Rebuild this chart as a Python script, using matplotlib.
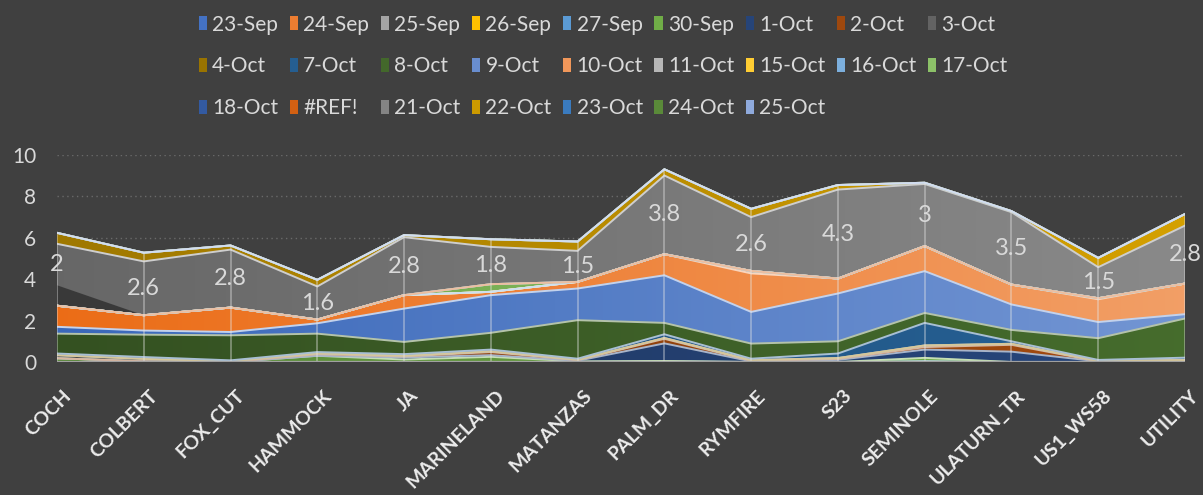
import colorsys
import numpy as np
import matplotlib
matplotlib.use('Agg')
import matplotlib.pyplot as plt
import matplotlib.transforms as mtransforms
from matplotlib.patches import Patch
from matplotlib.colors import to_rgb, LinearSegmentedColormap

plt.rcParams['font.family'] = ['Lato', 'DejaVu Sans']

# Sites on the x axis
sites = ['COCH', 'COLBERT', 'FOX_CUT', 'HAMMOCK', 'JA', 'MARINELAND', 'MATANZAS',
         'PALM_DR', 'RYMFIRE', 'S23', 'SEMINOLE', 'ULATURN_TR', 'US1_WS58', 'UTILITY']

# Series values, one per date, by site
sep23 = [0, 0, 0, 0, 0, 0, 0, 0, 0, 0, 0, 0, 0, 0]
sep24 = [0, 0, 0, 0, 0, 0, 0, 0, 0, 0, 0, 0, 0, 0]
sep25 = [0, 0, 0, 0, 0, 0, 0, 0, 0, 0, 0, 0, 0, 0]
sep26 = [0, 0, 0, 0, 0, 0, 0, 0, 0, 0, 0, 0, 0, 0]
sep27 = [0, 0, 0, 0, 0, 0, 0, 0.03, 0, 0, 0.04, 0, 0, 0.05]
sep30 = [0.18, 0.03, 0, 0.3, 0.12, 0.25, 0.03, 0.02, 0, 0, 0.16, 0, 0, 0]
oct1 = [0, 0, 0, 0, 0.1, 0.08, 0.03, 0.85, 0.03, 0.1, 0.4, 0.5, 0.03, 0.04]
oct2 = [0, 0, 0, 0.08, 0.05, 0.15, 0.03, 0.22, 0.03, 0.05, 0.12, 0.33, 0, 0]
oct3 = [0.15, 0.12, 0.04, 0.04, 0.03, 0.04, 0.02, 0.04, 0.03, 0.04, 0.08, 0.05, 0.02, 0]
oct4 = [0, 0, 0, 0, 0, 0, 0, 0, 0, 0, 0, 0, 0, 0]
oct7 = [0.08, 0.09, 0.04, 0.06, 0.08, 0.08, 0.05, 0.18, 0.07, 0.22, 1.09, 0.12, 0.05, 0.12]
oct8 = [0.96, 1.08, 1.21, 0.89, 0.59, 0.81, 1.86, 0.55, 0.73, 0.59, 0.48, 0.55, 1.05, 1.89]
oct9 = [0.33, 0.2, 0.16, 0.5, 1.61, 1.82, 1.53, 2.3, 1.53, 2.31, 2.02, 1.23, 0.78, 0.21]
oct10 = [1.02, 0.74, 1.18, 0.18, 0.65, 0.16, 0.32, 1.02, 1.86, 0.72, 1.21, 0.96, 1.1, 1.48]
oct11 = [0, 0, 0, 0, 0, 0, 0, 0, 0.12, 0, 0, 0, 0.05, 0]
oct15 = [0, 0, 0, 0, 0, 0, 0, 0, 0, 0, 0, 0, 0, 0]
oct16 = [0, 0, 0, 0, 0, 0, 0, 0, 0, 0, 0, 0, 0, 0]
oct17 = [0, 0, 0, 0, 0, 0.37, 0, 0, 0, 0, 0, 0, 0, 0]
oct18 = [0, 0, 0, 0, 0, 0, 0, 0, 0, 0, 0, 0, 0, 0]
ref_err = [0, 0, 0, 0, 0, 0, 0, 0, 0, 0, 0, 0, 0, 0]
oct21 = [2.0, 2.6, 2.8, 1.6, 2.8, 1.8, 1.5, 3.8, 2.6, 4.3, 3.0, 3.5, 1.5, 2.8]
oct22 = [0.53, 0.42, 0.2, 0.32, 0.1, 0.37, 0.45, 0.3, 0.4, 0.22, 0.06, 0.05, 0.45, 0.56]
oct23 = [0, 0, 0, 0, 0, 0, 0, 0, 0, 0, 0, 0, 0, 0]
oct24 = [0, 0, 0, 0, 0, 0, 0, 0, 0, 0, 0, 0, 0, 0]
oct25 = [0, 0, 0, 0, 0, 0, 0, 0, 0, 0, 0, 0, 0, 0]
# unfilled gap that shows under 21-Oct at COCH (blank cell artefact)
gap = [0.99, 0, 0, 0, 0, 0, 0, 0, 0, 0, 0, 0, 0, 0]

labels = ['23-Sep', '24-Sep', '25-Sep', '26-Sep', '27-Sep', '30-Sep', '1-Oct', '2-Oct', '3-Oct',
          '4-Oct', '7-Oct', '8-Oct', '9-Oct', '10-Oct', '11-Oct', '15-Oct', '16-Oct', '17-Oct',
          '18-Oct', '#REF!', '21-Oct', '22-Oct', '23-Oct', '24-Oct', '25-Oct']
values = [sep23, sep24, sep25, sep26, sep27, sep30, oct1, oct2, oct3, oct4, oct7, oct8, oct9,
          oct10, oct11, oct15, oct16, oct17, oct18, ref_err, oct21, oct22, oct23, oct24, oct25]
colors = ['#4472C4', '#ED7D31', '#A5A5A5', '#FFC000', '#5B9BD5', '#70AD47',
          '#264478', '#9E480E', '#636363', '#997300', '#255E91', '#43682B',
          '#698ED0', '#F1975A', '#B7B7B7', '#FFCD33', '#7CAFDD', '#8CC168',
          '#335AA1', '#D26012', '#848484', '#CC9A00', '#3A7BBF', '#5A8A39', '#8FAADC']

bg = '#404040'
txt = '#d9d9d9'


def shade(c, f):
    h, l, s = colorsys.rgb_to_hls(*to_rgb(c))
    return colorsys.hls_to_rgb(h, min(1.0, l * f), s)


def tint(c, f):
    r = np.array(to_rgb(c))
    return tuple(r + (1 - r) * f)


fig = plt.figure(figsize=(12.03, 4.95), dpi=100, facecolor=bg)
ax = fig.add_axes([57 / 1203, 1 - 362 / 495, (1185 - 57) / 1203, (362 - 155) / 495])
ax.set_facecolor(bg)

x = np.arange(len(sites))
grad = np.linspace(0, 1, 256)[None, :]

# insert the gap layer just below 21-Oct
layers = list(zip(values, colors))
layers.insert(20, (gap, 'gap'))

base = np.zeros(len(sites))
mid21 = None
for vals, col in layers:
    v = np.array(vals, dtype=float)
    top = base + v
    if col == 'gap':
        ax.fill_between(x, base, top, color='#393939', lw=0, zorder=2)
        base = top
        continue
    if v.sum() > 0:
        coll = ax.fill_between(x, base, top, facecolor='none', edgecolor='none', zorder=2)
        cmap = LinearSegmentedColormap.from_list('g', [shade(col, 0.78), shade(col, 1.04)])
        im = ax.imshow(grad, cmap=cmap, extent=[0, len(sites) - 1, 0, 11], aspect='auto',
                       origin='lower', zorder=2, interpolation='bilinear')
        im.set_clip_path(coll.get_paths()[0], transform=ax.transData)
    ax.plot(x, top, color=tint(col, 0.6), lw=1.4, zorder=3, solid_joinstyle='miter')
    if vals is oct21:
        mid21 = (base + top) / 2
    base = top

# drop lines
ax.vlines(x, 0, base, color='#e6e6e6', alpha=0.45, lw=1.2, zorder=4)
ax.axhline(0, color='#a0a0a0', lw=1.6, zorder=5)

# data labels for 21-Oct
for i, val in enumerate(oct21):
    ax.text(x[i], mid21[i], f'{val:g}', color=txt, fontsize=17, ha='center', va='center',
            zorder=6, clip_on=False)

ax.set_xlim(0, len(sites) - 1)
ax.set_ylim(0, 10)
ax.set_yticks([0, 2, 4, 6, 8, 10])
ax.set_axisbelow(True)
ax.yaxis.grid(True, linestyle=(0, (1, 2.5)), color='#6a6a6a', lw=1)
for s in ax.spines.values():
    s.set_visible(False)
ax.tick_params(axis='y', length=0, pad=15, labelcolor=txt, labelsize=15)
ax.tick_params(axis='x', length=0, pad=18)
ax.set_xticks(x)
ax.set_xticklabels(sites, rotation=45, ha='right', va='top', rotation_mode='anchor',
                   fontweight='bold', fontsize=14, color='#ececec')
shift = mtransforms.ScaledTranslation(5 / 100, 0, fig.dpi_scale_trans)
for lab in ax.get_xticklabels():
    lab.set_transform(lab.get_transform() + shift)

# legend, row-major order over 9 columns
handles = [Patch(facecolor=c, edgecolor='none') for c in colors]
order = []
for j in range(9):
    for r in range(3):
        k = j + 9 * r
        if k < len(labels):
            order.append(k)
fig.legend([handles[k] for k in order], [labels[k] for k in order], ncol=9,
           loc='upper left', bbox_to_anchor=(184 / 1203, 1 - 0 / 495), frameon=False,
           fontsize=15, labelcolor=txt, handlelength=0.4, handleheight=0.65,
           handletextpad=0.25, columnspacing=0.55, labelspacing=1.05, borderpad=0.2)

fig.savefig('out.png', dpi=100, facecolor=bg)
